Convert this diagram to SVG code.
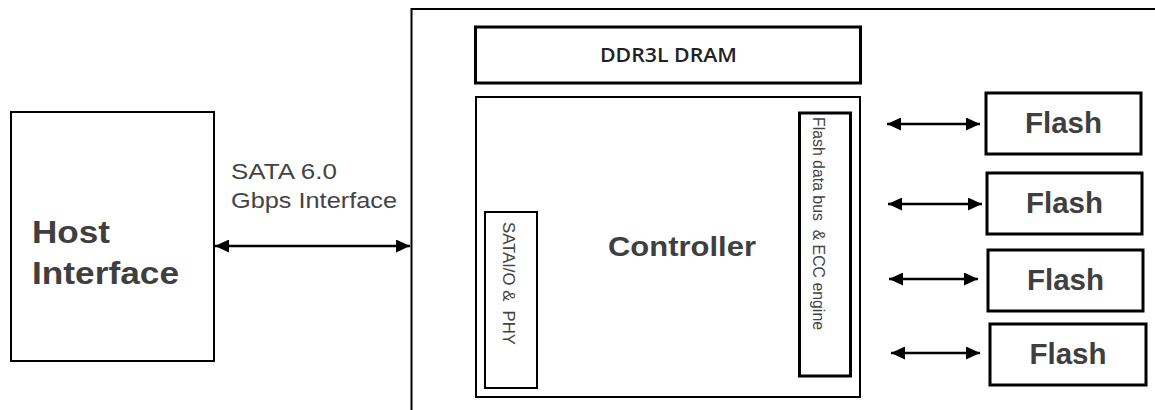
<svg xmlns="http://www.w3.org/2000/svg" width="1155" height="410" viewBox="0 0 1155 410">
<style>
.box{fill:#fff;stroke:#000;stroke-width:2}
.thick{stroke-width:3}
.big{font-family:"Liberation Sans",Arial,sans-serif;font-weight:bold;fill:#3f3f3f}
.lbl{font-family:"Liberation Sans",Arial,sans-serif;fill:#444}
.pre{white-space:pre}
.conn{stroke:#000;stroke-width:2.5;fill:none;marker-start:url(#ah);marker-end:url(#ah)}
</style>
<defs>
<marker id="ah" viewBox="0 0 14 13" refX="14" refY="6.5" markerWidth="14" markerHeight="13" markerUnits="userSpaceOnUse" orient="auto-start-reverse">
<path d="M0,0 L14,6.5 L0,13 Z" fill="#000"/>
</marker>
</defs>
<rect width="1155" height="410" fill="#fff"/>
<g id="ssd">
<path d="M411.5,410 V9 H1155" fill="none" stroke="#000" stroke-width="2"/>
</g>
<g id="host">
<rect class="box" x="11" y="112" width="203" height="249"/>
<text class="big" x="32" y="243" font-size="32" textLength="78" lengthAdjust="spacingAndGlyphs">Host</text>
<text class="big" x="32" y="284" font-size="32" textLength="147" lengthAdjust="spacingAndGlyphs">Interface</text>
</g>
<g id="dram">
<rect class="box thick" x="475.5" y="27" width="385" height="56"/>
<text x="600" y="62" font-family="'Open Sans','Liberation Sans',sans-serif" font-size="19.5" font-weight="600" fill="#222" textLength="137" lengthAdjust="spacingAndGlyphs">DDR3L DRAM</text>
</g>
<g id="controller">
<rect class="box" x="476" y="97" width="384" height="300"/>
<text class="big" x="608" y="256" font-size="27" textLength="148" lengthAdjust="spacingAndGlyphs">Controller</text>
</g>
<g id="sata-phy">
<rect class="box" x="485" y="212" width="52" height="176"/>
<text class="lbl pre" font-size="16" transform="translate(503,222) rotate(90)" textLength="123" lengthAdjust="spacingAndGlyphs">SATAI/O &amp;  PHY</text>
</g>
<g id="flash-bus">
<rect class="box thick" x="799.5" y="113" width="51" height="263"/>
<text class="lbl pre" font-size="16" transform="translate(813,117) rotate(90)" textLength="213" lengthAdjust="spacingAndGlyphs">Flash data bus  &amp; ECC engine</text>
</g>
<g id="flash1">
<rect class="box thick" x="986" y="93" width="155" height="61"/>
<text class="big" x="1063.5" y="133" font-size="29.5" text-anchor="middle">Flash</text>
</g>
<g id="flash2">
<rect class="box thick" x="987" y="173" width="155" height="61"/>
<text class="big" x="1064.5" y="213" font-size="29.5" text-anchor="middle">Flash</text>
</g>
<g id="flash3">
<rect class="box thick" x="988" y="250" width="155" height="61"/>
<text class="big" x="1065.5" y="290" font-size="29.5" text-anchor="middle">Flash</text>
</g>
<g id="flash4">
<rect class="box thick" x="990" y="324" width="156" height="61"/>
<text class="big" x="1068" y="364" font-size="29.5" text-anchor="middle">Flash</text>
</g>
<g id="connectors">
<line class="conn" x1="215" y1="246" x2="410" y2="246"/>
<line class="conn" x1="887" y1="124" x2="980" y2="124"/>
<line class="conn" x1="888" y1="204" x2="982" y2="204"/>
<line class="conn" x1="889" y1="279" x2="978" y2="279"/>
<line class="conn" x1="891" y1="353" x2="980" y2="353"/>
<text class="lbl" x="231" y="179" font-size="22" textLength="106" lengthAdjust="spacingAndGlyphs">SATA 6.0</text>
<text class="lbl" x="231" y="208" font-size="22" textLength="166" lengthAdjust="spacingAndGlyphs">Gbps Interface</text>
</g>
</svg>
